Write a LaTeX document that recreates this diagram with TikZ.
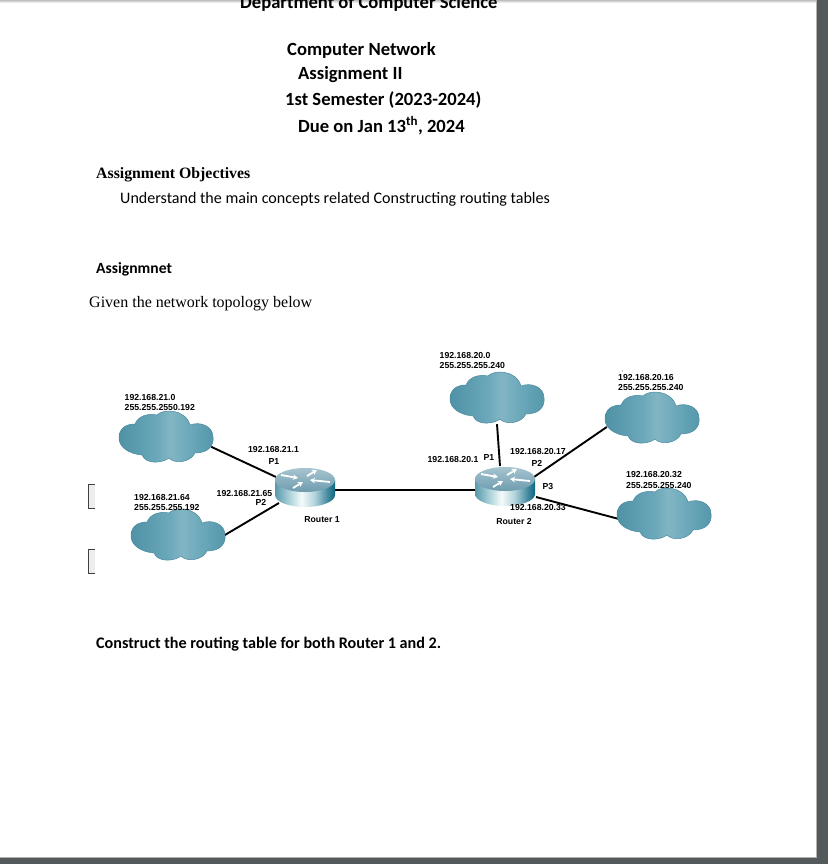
\documentclass[tikz,border=0pt]{standalone}
\usepackage{fontspec}
\usepackage{tikz}
\usetikzlibrary{arrows.meta}
\newfontfamily\carlito{Carlito}
\newfontfamily\libsans{Liberation Sans}
\newfontfamily\libserif{Liberation Serif}
\definecolor{deskgray}{HTML}{54595C}
\definecolor{cloudline}{HTML}{4A8A9F}
\definecolor{routerhi}{HTML}{A6C4D0}
\definecolor{routerlo}{HTML}{6E9CAE}
\pgfdeclarehorizontalshading{cloudshade}{100bp}{
  rgb(0bp)=(0.31,0.57,0.65); rgb(25bp)=(0.31,0.57,0.65); rgb(45bp)=(0.42,0.66,0.73);
  rgb(52bp)=(0.51,0.71,0.77); rgb(62bp)=(0.42,0.66,0.73); rgb(75bp)=(0.33,0.59,0.67); rgb(100bp)=(0.33,0.59,0.67)}
\pgfdeclarehorizontalshading{routershade}{100bp}{
  rgb(0bp)=(0.30,0.55,0.62); rgb(25bp)=(0.35,0.60,0.67); rgb(38bp)=(0.70,0.84,0.87); rgb(47bp)=(0.96,0.98,0.98);
  rgb(58bp)=(0.70,0.83,0.86); rgb(68bp)=(0.30,0.56,0.64); rgb(75bp)=(0.05,0.40,0.50); rgb(100bp)=(0.05,0.40,0.50)}
\tikzset{
  addr/.style={inner sep=0pt,anchor=west,align=left,font=\libsans\bfseries\fontsize{8.7}{10.6}\selectfont},
  port/.style={inner sep=0pt,font=\libsans\bfseries\fontsize{8.7}{10.6}\selectfont},
  heading/.style={inner sep=0pt,anchor=base west,font=\carlito\bfseries\fontsize{18.6}{22}\selectfont},
  bodytext/.style={inner sep=0pt,anchor=base west},
  cloudnet/.style={inner sep=0pt,minimum width=90pt,minimum height=50pt},
  routernode/.style={inner sep=0pt,minimum width=60pt,minimum height=41pt},
  link/.style={line width=1.9pt,black},
  roundmark/.style={draw=black!75,line width=0.8pt}
}
% cloud drawn at a named node
\newcommand{\cloudbody}[1]{%
  \begin{scope}[shift={(#1.center)}]
    \path[draw=cloudline,line width=0.5pt,shading=cloudshade]
      (-47,0) .. controls (-47,-9) and (-41,-14) .. (-31,-14)
      .. controls (-28,-22) and (-18,-25) .. (-9,-23)
      .. controls (-4,-29) and (19,-30) .. (24,-13)
      .. controls (34,-17) and (47,-12) .. (47,-1)
      .. controls (48,8) and (42,15) .. (29,15)
      .. controls (24,25) and (8,26) .. (3,20)
      .. controls (-3,25) and (-20,27) .. (-24,17)
      .. controls (-36,16) and (-47,10) .. (-47,0) -- cycle;
  \end{scope}}
% router drawn at a named node
\newcommand{\routerbody}[1]{%
  \begin{scope}[shift={(#1.center)}]
    \path[shading=routershade]
      (-30,-7) -- (-30,8) arc[start angle=180,end angle=0,x radius=30,y radius=12] -- (30,-7) -- cycle;
    \shade[top color=routerhi,bottom color=routerlo]
      (0,-7) ellipse[x radius=30,y radius=12];
    \foreach \ax/\ay/\bx/\by in {-24/-12/-7/-9, 2/-11/12/-17, 25/-5/5/-7, -12/1/-2/-5}
      \draw[white,line width=1.8pt,-{Stealth[length=5pt,width=5.5pt]}] (\ax,\ay) -- (\bx,\by);
  \end{scope}}
\begin{document}
\begin{tikzpicture}[x=1pt,y=-1pt]
  \useasboundingbox (0,0) rectangle (828,864);
  \clip (0,0) rectangle (828,864);

  % desk and page
  \fill[deskgray] (0,0) rectangle (828,864);
  \fill[white,draw=black!30,line width=0.8pt] (-2,0) rectangle (816,857);
  \shade[top color=black!25,bottom color=white] (0,0) rectangle (816,3);

  % header
  \node[heading] (dept) at (240,9) {Department of Computer Science};
  \node[heading] (course) at (287,56) {Computer Network};
  \node[heading] (assign) at (298,80) {Assignment II};
  \node[heading] (term) at (285,106) {1st Semester (2023-2024)};
  \node[heading] (due) at (298,132) {Due on Jan 13\textsuperscript{th}, 2024};

  % body text
  \node[bodytext,font=\libserif\bfseries\fontsize{15.8}{18}\selectfont] (objectives) at (96,178) {Assignment Objectives};
  \node[bodytext,font=\carlito\fontsize{16.05}{19}\selectfont] (understand) at (120,203) {Understand the main concepts related Constructing routing tables};
  \node[bodytext,font=\carlito\bfseries\fontsize{15.6}{19}\selectfont] (task) at (96,273) {Assignmnet};
  \node[bodytext,font=\libserif\fontsize{16}{19}\selectfont] (given) at (89,307) {Given the network topology below};
  \node[bodytext,font=\carlito\bfseries\fontsize{16.15}{19}\selectfont] (construct) at (96,648) {Construct the routing table for both Router 1 and 2.};

  % marks at the margin
  \fill[black!7] (88,484) rectangle (95,508);
  \draw[roundmark] (95,484) -- (88,484) -- (88,508) -- (95,508);
  \fill[black!7] (88,549) rectangle (95,573);
  \draw[roundmark] (95,549) -- (88,549) -- (88,573) -- (95,573);

  % networks
  \node[cloudnet] (netA) at (166,438) {};
  \node[cloudnet] (netB) at (178,536) {};
  \node[cloudnet] (netC) at (497,399) {};
  \node[cloudnet] (netD) at (652,419) {};
  \node[cloudnet] (netE) at (664,515) {};

  % routers and where the links reach them
  \node[routernode] (routerA) at (305,487) {};
  \node[routernode] (routerB) at (505,486) {};
  \coordinate (ifAa) at (276,477);
  \coordinate (ifAb) at (279,503);
  \coordinate (ifAc) at (330,490);
  \coordinate (ifBa) at (500,466);
  \coordinate (ifBb) at (534,477);
  \coordinate (ifBc) at (536,497);
  \coordinate (ifBd) at (480,490);

  % links
  \draw[link] (netA.-11) -- (ifAa);
  \draw[link] (netB.east) -- (ifAb);
  \draw[link] (ifAc) -- (ifBd);
  \draw[link] (netC.-90) -- (ifBa);
  \draw[link] (netD.190) -- (ifBb);
  \draw[link] (netE.185) -- (ifBc);

  \cloudbody{netA}
  \cloudbody{netB}
  \cloudbody{netC}
  \cloudbody{netD}
  \cloudbody{netE}
  \routerbody{routerA}
  \routerbody{routerB}

  % addresses
  \node[addr] (addrA) at (124.5,402.5) {192.168.21.0\\255.255.2550.192};
  \node[addr] (addrB) at (134,502.5) {192.168.21.64\\255.255.255.192};
  \node[addr] (addrC) at (439.5,360.5) {192.168.20.0\\255.255.255.240};
  \node[addr] (addrD) at (618,382.5) {192.168.20.16\\255.255.255.240};
  \node[addr] (addrE) at (626,480) {192.168.20.32\\255.255.255.240};
  \fill (622.5,371) circle (0.4);

  % ports
  \node[port] (ipA) at (273.5,450) {192.168.21.1};
  \node[port] (portA) at (274,462) {P1};
  \node[port] (ipB) at (244.5,494) {192.168.21.65};
  \node[port] (portB) at (261,502) {P2};
  \node[port] (nameA) at (322,520) {Router 1};
  \node[port] (ipC) at (453,459) {192.168.20.1};
  \node[port] (portC) at (489,458) {P1};
  \node[port] (ipD) at (538,451) {192.168.20.17};
  \node[port] (portD) at (537,463) {P2};
  \node[port] (portE) at (548,487) {P3};
  \node[port] (ipE) at (538,508) {192.168.20.33};
  \node[port] (nameB) at (514,521) {Router 2};
\end{tikzpicture}
\end{document}
